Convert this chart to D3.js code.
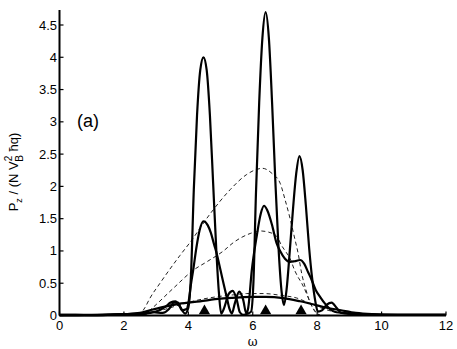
<!DOCTYPE html>
<html>
<head>
<meta charset="utf-8">
<script src="https://cdn.jsdelivr.net/npm/d3@7"></script>
<style>
body{margin:0;background:#fff}
svg{display:block;font-family:"Liberation Sans",Arial,sans-serif}
</style>
</head>
<body>
<svg id="chart" width="457" height="349"></svg>
<script>
// tall solid curve
const omegaA = [0,0.5,1,1.5,2,2.5,2.8,3.1,3.3,3.45,3.6,3.75,3.9,4.0,4.08,4.17,4.27,4.37,4.47,4.57,4.67,4.77,4.87,4.95,5.02,5.1,5.25,5.38,5.5,5.6,5.7,5.85,5.95,6.02,6.1,6.2,6.3,6.4,6.5,6.6,6.7,6.8,6.9,6.97,7.05,7.15,7.25,7.35,7.45,7.55,7.65,7.75,7.85,7.95,8.02,8.15,8.3,8.45,8.6,8.75,9,9.5,10,11,12]
const powerA = [0.01,0.01,0.005,0.01,0.02,0.02,0.04,0.08,0.14,0.2,0.22,0.13,0.03,0.12,0.6,1.95,3.1,3.8,4.0,3.8,3.1,2.05,1.0,0.35,0.03,0.1,0.33,0.38,0.25,0.05,0.01,0.03,0.06,0.5,1.9,3.3,4.3,4.7,4.3,3.3,2.1,1.05,0.35,0.16,0.4,1.0,1.65,2.2,2.47,2.25,1.7,1.05,0.55,0.2,0.06,0.08,0.17,0.2,0.12,0.04,0.03,0.02,0.01,0.01,0.01]
// medium solid curve
const omegaB = [0,1,2,2.5,2.9,3.2,3.4,3.55,3.68,3.8,3.95,4.0,4.08,4.15,4.25,4.35,4.47,4.6,4.7,4.8,4.88,5.0,5.1,5.19,5.28,5.35,5.45,5.58,5.7,5.8,5.86,5.97,6.12,6.25,6.35,6.45,6.6,6.74,6.85,7.0,7.16,7.3,7.47,7.6,7.72,7.83,7.95,8.09,8.25,8.4,8.6,9,10,12]
const powerB = [0.01,0.01,0.02,0.03,0.05,0.04,0.1,0.2,0.2,0.08,0.1,0.19,0.48,0.7,1.05,1.32,1.46,1.4,1.28,1.1,0.96,0.7,0.48,0.29,0.1,0.03,0.2,0.37,0.25,0.03,0.12,0.7,1.22,1.58,1.7,1.63,1.4,1.12,1.0,0.88,0.83,0.84,0.86,0.8,0.67,0.55,0.4,0.29,0.18,0.1,0.05,0.03,0.01,0.01]
// low solid curve
const omegaC = [0,1,2,2.5,2.8,3.2,3.7,4.36,5.0,5.6,6.0,6.4,6.95,7.47,7.9,8.3,8.7,9.2,9.7,10.5,12]
const powerC = [0,0.005,0.02,0.04,0.08,0.13,0.18,0.22,0.26,0.28,0.29,0.29,0.27,0.22,0.17,0.12,0.085,0.04,0.02,0.01,0.01]
// dashed curves
const omegaD1 = [2.45,2.5,2.65,2.81,3.12,3.74,4.05,4.67,5.3,5.8,6.1,6.3,6.6,6.85,7.0,7.16,7.3,7.41,7.52,7.65,7.8,7.95,8.1]
const powerD1 = [0,0.02,0.12,0.27,0.5,0.93,1.13,1.57,1.95,2.18,2.26,2.28,2.2,2.05,1.8,1.5,1.2,0.96,0.65,0.4,0.18,0.05,0]
const omegaD2 = [2.6,2.65,2.81,3.53,4.15,4.6,5.09,5.4,5.92,6.23,6.5,6.74,6.9,7.05,7.16,7.3,7.4,7.52,7.67,7.8,7.95,8.1]
const powerD2 = [0,0.02,0.085,0.42,0.7,0.84,1.0,1.13,1.27,1.31,1.29,1.23,1.08,0.97,0.88,0.7,0.6,0.5,0.34,0.18,0.06,0]
const omegaD3 = [2.6,2.81,3.3,3.9,4.4,4.88,5.4,5.81,6.33,6.9,7.37,7.67,8.1,8.5,9,9.5]
const powerD3 = [0,0.04,0.1,0.19,0.25,0.29,0.32,0.34,0.34,0.31,0.27,0.21,0.12,0.06,0.02,0]
// markers on the axis
const markerOmega = [4.5,6.4,7.5]
const xTicks = [0,2,4,6,8,10,12]
const yTicks = [0,0.5,1,1.5,2,2.5,3,3.5,4,4.5]

const svg = d3.select("#chart")
const x = d3.scaleLinear().domain([0,12]).range([59.5,446])
const y = d3.scaleLinear().domain([0,4.5]).range([315.5,25])

const zip = (a,b)=>a.map((v,i)=>[v,b[i]])
const line = d3.line().x(d=>x(d[0])).y(d=>y(d[1])).curve(d3.curveMonotoneX)

// dashed first, solid over them
;[[omegaD1,powerD1],[omegaD2,powerD2],[omegaD3,powerD3]].forEach(c=>{
	svg.append("path")
	  .attr("d", line(zip(c[0],c[1])))
	  .attr("fill","none")
	  .attr("stroke","#222")
	  .attr("stroke-width",1)
	  .attr("stroke-dasharray","4,3")
})
;[[omegaC,powerC],[omegaB,powerB],[omegaA,powerA]].forEach(c=>{
	svg.append("path")
	  .attr("d", line(zip(c[0],c[1])))
	  .attr("fill","none")
	  .attr("stroke","#000")
	  .attr("stroke-width",2.2)
	  .attr("stroke-linejoin","round")
})

// axes
const axisG = svg.append("g")
axisG.append("line")
	.attr("x1",x(0)).attr("x2",x(0))
	.attr("y1",y(0)).attr("y2",10)
	.attr("stroke","#000").attr("stroke-width",2)
axisG.append("line")
	.attr("x1",x(0)).attr("x2",x(12))
	.attr("y1",y(0)).attr("y2",y(0))
	.attr("stroke","#000").attr("stroke-width",2)

xTicks.forEach(t=>{
	axisG.append("line")
		.attr("x1",x(t)).attr("x2",x(t))
		.attr("y1",y(0)).attr("y2",y(0)-4)
		.attr("stroke","#000").attr("stroke-width",1.2)
	axisG.append("text")
		.attr("x",x(t)).attr("y",330)
		.attr("text-anchor","middle")
		.attr("font-size",13)
		.text(t)
})
yTicks.forEach(t=>{
	axisG.append("line")
		.attr("x1",x(0)).attr("x2",x(0)+4)
		.attr("y1",y(t)).attr("y2",y(t))
		.attr("stroke","#000").attr("stroke-width",1.2)
	axisG.append("text")
		.attr("x",57).attr("y",y(t))
		.attr("dy","0.35em")
		.attr("text-anchor","end")
		.attr("font-size",13)
		.text(t)
})

// triangles
const tri = d3.symbol().type(d3.symbolTriangle).size(55)
svg.selectAll(".mark").data(markerOmega).join("path")
	.attr("class","mark")
	.attr("d", tri)
	.attr("transform", d=>`translate(${x(d)},${y(0)-4.5})`)
	.attr("fill","#000")

// labels
svg.append("text")
	.attr("x",x(6)).attr("y",346)
	.attr("text-anchor","middle")
	.attr("font-size",12)
	.attr("font-family","DejaVu Serif, serif")
	.text("ω")

svg.append("text")
	.attr("x",77).attr("y",127)
	.attr("font-size",18)
	.text("(a)")

const yl = svg.append("text")
	.attr("transform","translate(18,172) rotate(-90)")
	.attr("text-anchor","middle")
	.attr("font-size",13)
yl.append("tspan").text("P")
yl.append("tspan").attr("font-size",9).attr("dy",4).text("z")
yl.append("tspan").attr("dy",-4).text(" / (N V")
yl.append("tspan").attr("font-size",10).attr("dy",-6).text("2")
yl.append("tspan").attr("font-size",10).attr("dx",-6).attr("dy",11).text("B")
yl.append("tspan").attr("dy",-5).text(" ħq)")
</script>
</body>
</html>
